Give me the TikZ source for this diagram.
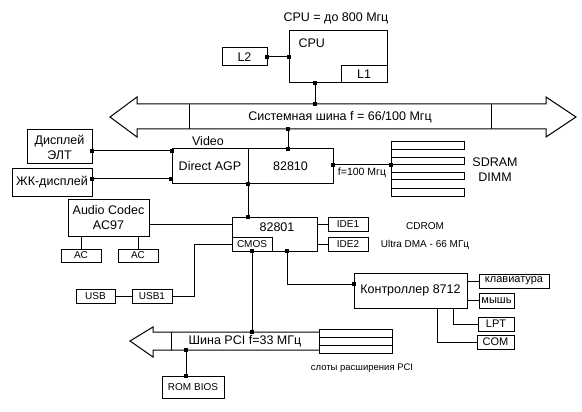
\documentclass[tikz,border=0pt]{standalone}
\usepackage{fontspec}
\setmainfont{Liberation Sans}
\usetikzlibrary{calc}
\newcommand\fbig{\fontsize{12.5}{15}\selectfont}
\newcommand\fmid{\fontsize{11}{13}\selectfont}
\newcommand\fsml{\fontsize{10}{12}\selectfont}
\newcommand\dt[1]{\fill[black] (#1) +(-1.7,-1.7) rectangle +(1.7,1.7);}
\begin{document}
\begin{tikzpicture}[x=1pt,y=-1pt,line width=1pt,
  bx/.style={draw,inner sep=0pt,outer sep=0pt,font=\fbig},
  sb/.style={bx,font=\fsml},
  mb/.style={bx,font=\fmid},
  lbl/.style={inner sep=0pt,font=\fbig},
  slbl/.style={inner sep=0pt,font=\fsml}]
\useasboundingbox[fill=white] (0,0) rectangle (582,412);

% CPU part
\node[lbl] (title) at (336,18) {CPU = до 800 Мгц};
\node[bx,minimum width=98,minimum height=52] (cpu) at (338,57) {};
\node[lbl,anchor=west] (cputxt) at (298,43) {CPU};
\node[bx,minimum width=46,minimum height=17] (l1) at (364,74.5) {L1};
\node[bx,minimum width=45,minimum height=18] (l2) at (244.5,57) {L2};
\draw (l2.east) -- (l2.east -| cpu.west);
\dt{l2.east} \dt{l2.east -| cpu.west}

% system bus
\draw (110,117) -- (137,97) -- (137,104) -- (546,104) -- (546,97) -- (576,117)
  -- (546,137) -- (546,129) -- (137,129) -- (137,137) -- cycle;
\draw (189,104) -- (189,129);
\draw (491,104) -- (491,129);
\node[lbl] (sbtxt) at (340,117) {Системная шина f = 66/100 Мгц};
\coordinate (sbA) at (315,104);
\draw (cpu.south -| sbA) -- (sbA);
\dt{cpu.south -| sbA} \dt{sbA}

% north bridge
\node[bx,minimum width=76,minimum height=35] (agp) at (210,166.5) {Direct AGP};
\node[bx,minimum width=85,minimum height=35] (n82810) at (290.5,166.5) {82810};
\node[lbl] (video) at (208,141) {Video};
\coordinate (sbB) at (288,129);
\draw (sbB) -- (sbB |- n82810.north);
\dt{sbB} \dt{sbB |- n82810.north}

% displays
\node[bx,minimum width=65,minimum height=34,align=center] (crt) at (59.5,147) {Дисплей\\ЭЛТ};
\node[bx,minimum width=80,minimum height=27] (lcd) at (52,182.5) {ЖК-дисплей};
\coordinate (agpA) at (172,151);
\coordinate (agpB) at (171,179);
\draw (crt.east |- agpA) -- (agpA);
\dt{crt.east |- agpA} \dt{agpA}
\draw (lcd.east |- agpB) -- (agpB);
\dt{lcd.east |- agpB} \dt{agpB}

% SDRAM
\coordinate (sdA) at (391,165);
\draw (391,142) -- (391,196);
\draw (391,142) rectangle (464,150);
\draw (391,158) rectangle (464,165);
\draw (391,173) rectangle (464,180);
\draw (391,188) rectangle (464,196);
\draw (n82810.east |- sdA) -- (sdA);
\dt{n82810.east |- sdA} \dt{sdA}
\node[inner sep=0pt,font=\fontsize{10.5}{12}\selectfont] (f100) at (362,173) {f=100 Мгц};
\node[lbl,align=center] (sdtxt) at (495,169.5) {SDRAM\\DIMM};

% south bridge
\node[bx,minimum width=85,minimum height=34] (n82801) at (274.5,234) {};
\node[lbl] (t82801) at (277,227) {82801};
\node[sb,minimum width=40,minimum height=14] (cmos) at (252,244) {CMOS};
\draw (agp.south east) -- (agp.south east |- n82801.north);
\dt{agp.south east} \dt{agp.south east |- n82801.north}

\node[sb,minimum width=40,minimum height=14] (ide1) at (348,224) {IDE1};
\node[sb,minimum width=40,minimum height=14] (ide2) at (348,244) {IDE2};
\draw (ide1.west) -- (ide1.west -| n82801.east);
\draw (ide2.west) -- (ide2.west -| n82801.east);
\node[slbl] (cdrom) at (425,226) {CDROM};
\node[slbl] (ultra) at (425,245) {Ultra DMA - 66 МГц};

% audio
\node[bx,minimum width=81,minimum height=37,align=center] (audio) at (108.5,217.5) {Audio Codec\\AC97};
\node[sb,minimum width=40,minimum height=13] (ac1) at (81,255.5) {AC};
\node[sb,minimum width=40,minimum height=13] (ac2) at (138,255.5) {AC};
\draw (ac1.north) -- (ac1.north |- audio.south);
\draw (ac2.north) -- (ac2.north |- audio.south);
\coordinate (nA) at (232,224);
\draw (audio.east |- nA) -- (nA);

% USB
\node[sb,minimum width=40,minimum height=14] (usb1) at (152,296) {USB1};
\node[sb,minimum width=39,minimum height=14] (usb) at (95.5,296) {USB};
\coordinate (uA) at (194,244);
\draw (cmos.west) -- (uA) -- (uA |- usb1.east) -- (usb1.east);
\draw (usb.east) -- (usb1.west);

% controller
\node[bx,minimum width=113,minimum height=35] (ctrl) at (410.5,290.5) {Контроллер 8712};
\coordinate (nB) at (287,251);
\coordinate (ctA) at (354,284);
\draw (nB) -- (nB |- ctA) -- (ctA);
\dt{nB} \dt{ctA}
\node[mb,minimum width=70,minimum height=14] (kbd) at (514,281) {клавиатура};
\node[mb,minimum width=35,minimum height=15] (mouse) at (496.5,300.5) {мышь};
\node[mb,minimum width=36,minimum height=14] (lpt) at (496,324) {LPT};
\node[mb,minimum width=37,minimum height=14] (com) at (495.5,342) {COM};
\draw (ctrl.east |- kbd.west) -- (kbd.west);
\draw (ctrl.east |- mouse.west) -- (mouse.west);
\coordinate (cB) at (453,308);
\coordinate (cC) at (437,308);
\draw (cB) -- (cB |- lpt.west) -- (lpt.west);
\draw (cC) -- (cC |- com.west) -- (com.west);

% PCI bus
\draw (319,332) -- (153,332) -- (153,327) -- (130,341) -- (153,357) -- (153,350) -- (319,350);
\draw (171,332) -- (171,350);
\draw (319,329) rectangle (392,353);
\draw (319,337) -- (392,337);
\draw (319,345) -- (392,345);
\node[lbl] (pcitxt) at (245,341) {Шина PCI f=33 МГц};
\node[inner sep=0pt,font=\fontsize{9.5}{11}\selectfont] (slots) at (362,368) {слоты расширения PCI};
\coordinate (pciA) at (252,332);
\draw (cmos.south) -- (pciA);
\dt{cmos.south} \dt{pciA}

% ROM BIOS
\node[sb,minimum width=62,minimum height=22] (rom) at (193,387) {ROM BIOS};
\coordinate (pciB) at (186,350);
\draw (pciB) -- (pciB |- rom.north);
\dt{pciB} \dt{pciB |- rom.north}
\end{tikzpicture}
\end{document}
